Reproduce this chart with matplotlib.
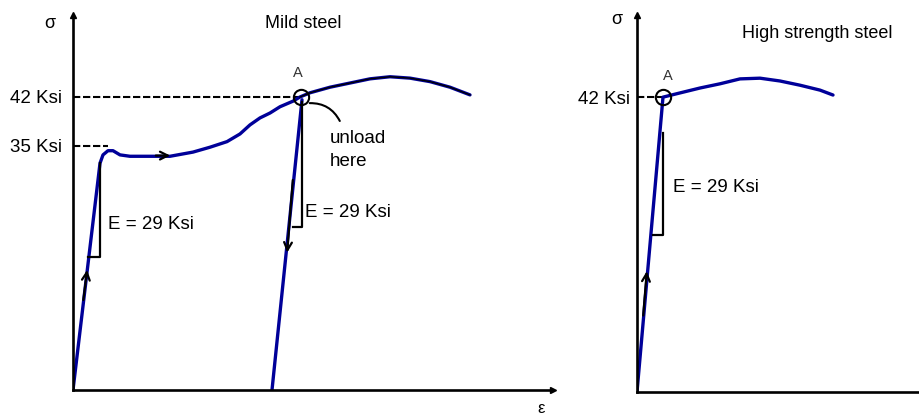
import numpy as np
import matplotlib
matplotlib.use("Agg")
import matplotlib.pyplot as plt

plt.rcParams["font.family"] = ["Liberation Sans", "DejaVu Sans"]

# mild steel curve (strain in arbitrary units, stress in ksi)
mild_strain = [0, 2.7, 3.0, 3.5, 4.0, 4.7, 5.7, 7.7, 9.7, 12.0, 13.7, 15.4, 16.7,
               17.7, 18.7, 19.7, 20.7, 22.0, 22.7, 23.7, 25.7, 27.7, 29.7, 31.7,
               33.7, 35.7, 37.7, 39.7]
mild_stress = [0, 32.5, 33.7, 34.3, 34.3, 33.7, 33.5, 33.5, 33.5, 34.1, 34.8, 35.6, 36.7,
               38.0, 39.0, 39.7, 40.6, 41.4, 42.0, 42.6, 43.4, 44.0, 44.6, 44.9,
               44.7, 44.2, 43.4, 42.3]
unload_strain = [22.9, 19.9]
unload_stress = [41.6, 0]

# high strength steel curve
hs_strain = [0, 2.6, 4.3, 6.3, 8.3, 10.3, 12.3, 14.3, 16.3, 18.3, 19.6]
hs_stress = [0, 42.0, 42.6, 43.3, 43.9, 44.6, 44.7, 44.3, 43.7, 43.0, 42.3]

# modulus triangles
tri1_x = [1.5, 2.7, 2.7]
tri1_y = [19.1, 19.1, 32.5]
tri2_x = [22.0, 22.9, 22.9]
tri2_y = [23.4, 23.4, 41.3]
tri3_x = [1.6, 2.6, 2.6]
tri3_y = [22.4, 22.4, 36.9]

yield_mild = 35
ult_mild = 42
yield_hs = 42
point_a_mild = (22.8, 42.0)
point_a_hs = (2.6, 42.0)

blue = "#000099"
W, H = 919, 415

fig = plt.figure(figsize=(W / 100, H / 100), dpi=100)
ax1 = fig.add_axes([73 / W, 25 / H, 480 / W, 375 / H])
ax2 = fig.add_axes([637 / W, 23 / H, 282 / W, 377 / H])
ax1.set_xlim(0, 48)
ax1.set_ylim(0, 53.75)
ax2.set_xlim(0, 28.2)
ax2.set_ylim(0, 53.7)

for ax in (ax1, ax2):
    for s in ("top", "right"):
        ax.spines[s].set_visible(False)
    for s in ("left", "bottom"):
        ax.spines[s].set_linewidth(1.9)
    ax.set_xticks([])
    ax.tick_params(axis="y", length=0, labelsize=13.5)
    ax.plot(0, 1, "^", color="k", ms=5, transform=ax.transAxes, clip_on=False)

ax1.plot(1, 0, ">", color="k", ms=5, transform=ax1.transAxes, clip_on=False)
ax1.set_yticks([yield_mild, ult_mild])
ax1.set_yticklabels(["35 Ksi", "42 Ksi"])
ax1.tick_params(axis="y", pad=8)
ax2.set_yticks([yield_hs])
ax2.set_yticklabels(["42 Ksi"])
ax2.tick_params(axis="y", pad=5)

dash = (0, (3.5, 1.3))
line_kw = dict(color=blue, lw=2.4, solid_joinstyle="round", solid_capstyle="round")
# --- mild steel ---
ax1.hlines(ult_mild, 0, point_a_mild[0], colors="k", linestyles=dash, lw=1.5)
ax1.hlines(yield_mild, 0, 3.5, colors="k", linestyles=dash, lw=1.5)

arrow = dict(arrowstyle="->", color="k", lw=1.6, mutation_scale=14)
ax1.annotate("", xy=(1.45, 17.6), xytext=(1.0, 12.5), arrowprops=arrow)
ax1.annotate("", xy=(10.0, 33.6), xytext=(8.0, 33.6), arrowprops=arrow)
ax1.annotate("", xy=(21.4, 19.3), xytext=(22.0, 30.5), arrowprops=arrow)

ax1.plot(mild_strain, mild_stress, **line_kw)
ax1.plot(mild_strain[18:], mild_stress[18:], color="k", lw=1.0)
ax1.plot(unload_strain, unload_stress, **line_kw)
ax1.plot(tri1_x, tri1_y, color="k", lw=1.6)
ax1.plot(tri2_x, tri2_y, color="k", lw=1.6)
ax1.plot(*point_a_mild, "o", mfc="none", mec="k", ms=11, mew=1.5)
ax1.text(point_a_mild[0] - 0.3, 44.8, "A", fontsize=10.5, color="#333333", ha="center")
ax1.annotate("", xy=(26.8, 38.2), xytext=(23.4, 41.1),
             arrowprops=dict(arrowstyle="-", color="k", lw=1.5,
                             connectionstyle="arc3,rad=-0.35"))
ax1.text(25.7, 36.1, "unload", fontsize=13.5, va="center")
ax1.text(25.7, 32.7, "here", fontsize=13.5, va="center")
ax1.text(3.5, 23.7, "E = 29 Ksi", fontsize=13.5, va="center")
ax1.text(23.2, 25.4, "E = 29 Ksi", fontsize=13.5, va="center")
ax1.text(23.0, 52.6, "Mild steel", fontsize=13, ha="center", va="center")
ax1.text(-2.3, 52.6, "σ", fontsize=13, ha="center", va="center", clip_on=False)
ax1.text(46.8, -2.6, "ε", fontsize=12, ha="center", va="center", clip_on=False)

# --- high strength steel ---
ax2.hlines(yield_hs, 0, point_a_hs[0], colors="k", linestyles=dash, lw=1.5)
ax2.annotate("", xy=(1.0, 17.6), xytext=(0.6, 10.5), arrowprops=arrow)
ax2.plot(hs_strain, hs_stress, **line_kw)
ax2.plot(tri3_x, tri3_y, color="k", lw=1.6)
ax2.plot(*point_a_hs, "o", mfc="none", mec="k", ms=11, mew=1.5)
ax2.text(point_a_hs[0] + 0.5, 44.5, "A", fontsize=10.5, color="#333333", ha="center")
ax2.text(3.6, 29.2, "E = 29 Ksi", fontsize=13.5, va="center")
ax2.text(10.5, 51.1, "High strength steel", fontsize=13, ha="left", va="center")
ax2.text(-2.0, 53.0, "σ", fontsize=13, ha="center", va="center", clip_on=False)

fig.savefig("out.png", dpi=100)
